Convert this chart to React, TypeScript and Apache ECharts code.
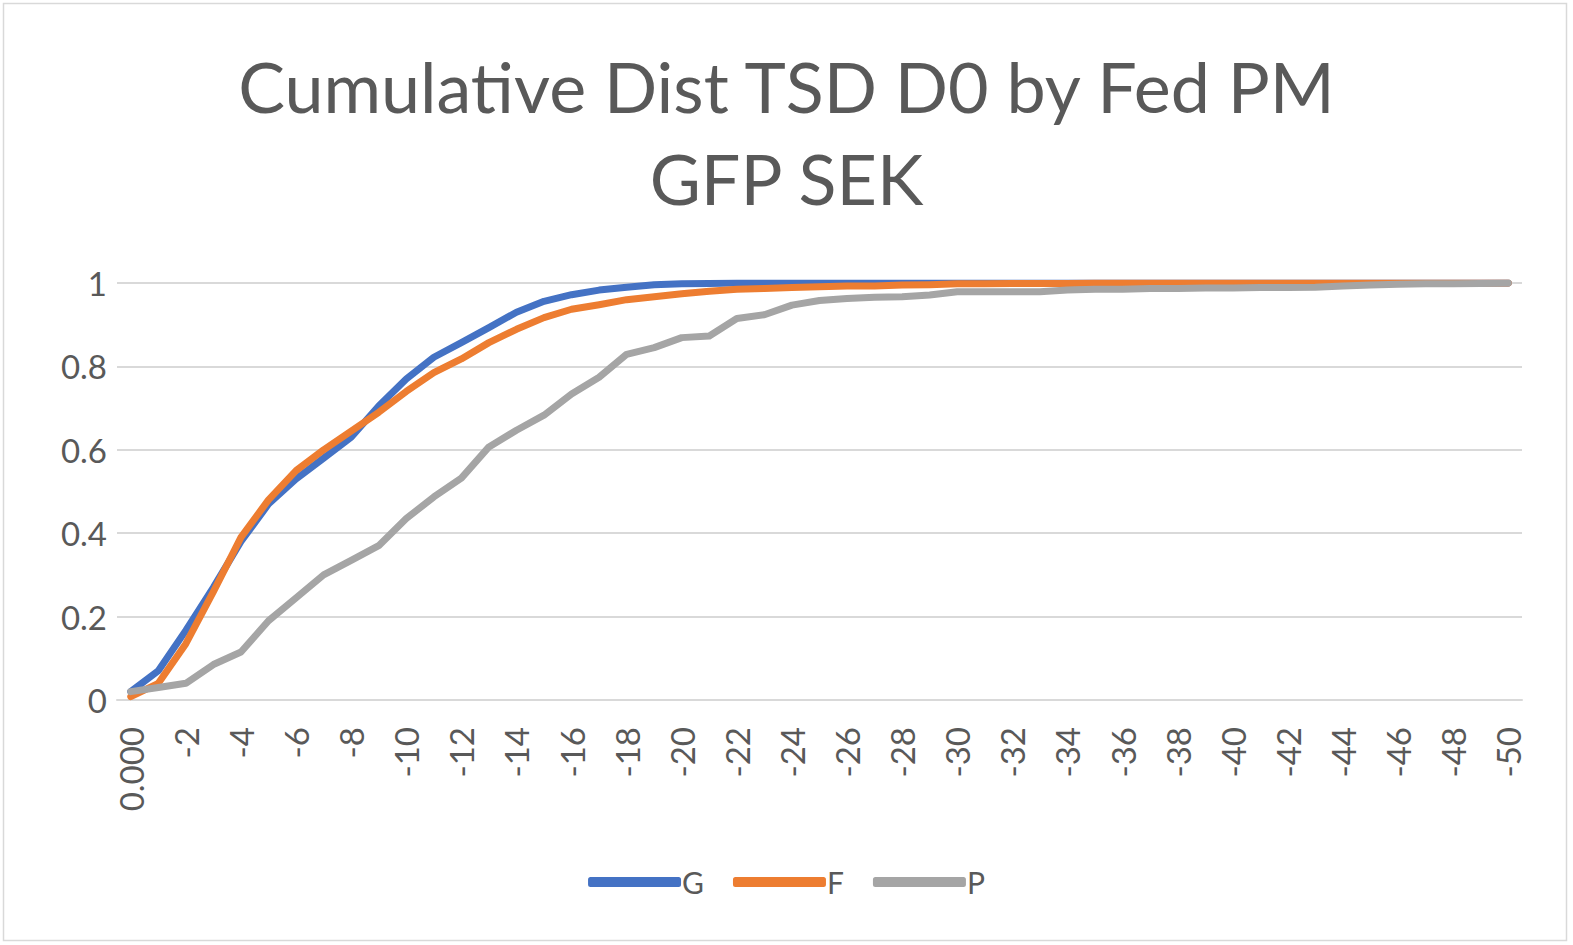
import React, { useEffect, useRef } from "react";
import * as echarts from "echarts";

const categories: string[] = ["0.000"];
for (let i = 1; i <= 50; i++) categories.push(String(-i));

const seriesG: number[] = [
  0.02, 0.07, 0.167, 0.27, 0.38, 0.47, 0.53, 0.58, 0.63, 0.705,
  0.77, 0.822, 0.857, 0.893, 0.93, 0.956, 0.972, 0.983, 0.99, 0.996,
  0.998, 0.999, 1, 1, 1, 1, 1, 1, 1, 1,
  1, 1, 1, 1, 1, 1, 1, 1, 1, 1,
  1, 1, 1, 1, 1, 1, 1, 1, 1, 1, 1,
];

const seriesF: number[] = [
  0.008, 0.04, 0.135, 0.26, 0.39, 0.48, 0.55, 0.6, 0.645, 0.69,
  0.74, 0.785, 0.818, 0.857, 0.889, 0.917, 0.937, 0.948, 0.96, 0.967,
  0.974, 0.98, 0.985, 0.987, 0.989, 0.991, 0.993, 0.993, 0.995, 0.996,
  0.998, 0.998, 0.999, 0.999, 0.999, 1, 1, 1, 1, 1,
  1, 1, 1, 1, 1, 1, 1, 1, 1, 1, 1,
];

const seriesP: number[] = [
  0.02, 0.03, 0.04, 0.085, 0.115, 0.19, 0.245, 0.3, 0.335, 0.37,
  0.435, 0.487, 0.532, 0.607, 0.647, 0.683, 0.734, 0.774, 0.829, 0.845,
  0.869, 0.873, 0.915, 0.924, 0.947, 0.958, 0.963, 0.966, 0.967, 0.971,
  0.979, 0.979, 0.979, 0.979, 0.983, 0.985, 0.985, 0.987, 0.987, 0.988,
  0.988, 0.989, 0.989, 0.99, 0.993, 0.995, 0.997, 0.998, 0.998, 0.999, 1,
];

const seriesNames = ["G", "F", "P"];
const colors = ["#4472C4", "#ED7D31", "#A5A5A5"];
const titleText = "Cumulative Dist TSD D0 by Fed PM\nGFP SEK";

const FONT = "Lato";
const TEXT = "#595959";

export default function App() {
  const ref = useRef<HTMLDivElement>(null);
  useEffect(() => {
    if (!ref.current) return;
    const chart = echarts.init(ref.current, undefined, { renderer: "svg" });
    const data = [seriesG, seriesF, seriesP];
    chart.setOption({
      animation: false,
      backgroundColor: "#ffffff",
      textStyle: { fontFamily: FONT },
      graphic: [
        {
          type: "rect",
          shape: { x: 3.5, y: 3.5, width: 1563, height: 937 },
          style: { fill: "none", stroke: "#d9d9d9", lineWidth: 1.5 },
          silent: true,
        },
      ],
      title: {
        text: titleText,
        left: "center",
        top: 35,
        textStyle: {
          fontFamily: FONT,
          fontSize: 70,
          fontWeight: "normal",
          color: TEXT,
          lineHeight: 92,
        },
      },
      legend: {
        data: seriesNames,
        left: "center",
        top: 862,
        icon: "roundRect",
        itemWidth: 93,
        itemHeight: 10,
        itemGap: 29,
        textStyle: { fontFamily: FONT, fontSize: 30, color: TEXT, padding: [0, 0, 0, -4] },
      },
      grid: { left: 117, right: 51, top: 283, bottom: 245, containLabel: false },
      xAxis: {
        type: "category",
        data: categories,
        boundaryGap: true,
        axisLine: { lineStyle: { color: "#d9d9d9", width: 2 } },
        axisTick: { show: false },
        axisLabel: {
          interval: 1,
          rotate: 90,
          margin: 27,
          fontFamily: FONT,
          fontSize: 33,
          color: TEXT,
        },
      },
      yAxis: {
        type: "value",
        min: 0,
        max: 1,
        interval: 0.2,
        axisLine: { show: false },
        axisTick: { show: false },
        splitLine: { lineStyle: { color: "#d9d9d9", width: 2 } },
        axisLabel: {
          margin: 10,
          fontFamily: FONT,
          fontSize: 33,
          color: TEXT,
          formatter: (v: number) => (v === 0 ? "0" : v === 1 ? "1" : String(Math.round(v * 10) / 10)),
        },
      },
      series: data.map((d, i) => ({
        name: seriesNames[i],
        type: "line",
        data: d,
        showSymbol: false,
        symbol: "none",
        color: colors[i],
        lineStyle: { width: 7, color: colors[i], cap: "round", join: "round" },
        z: 2 + i,
      })),
    });
    return () => chart.dispose();
  }, []);
  return (
    <div
      ref={ref}
      style={{ position: "fixed", left: 0, top: 0, width: 1573, height: 945 }}
    />
  );
}
